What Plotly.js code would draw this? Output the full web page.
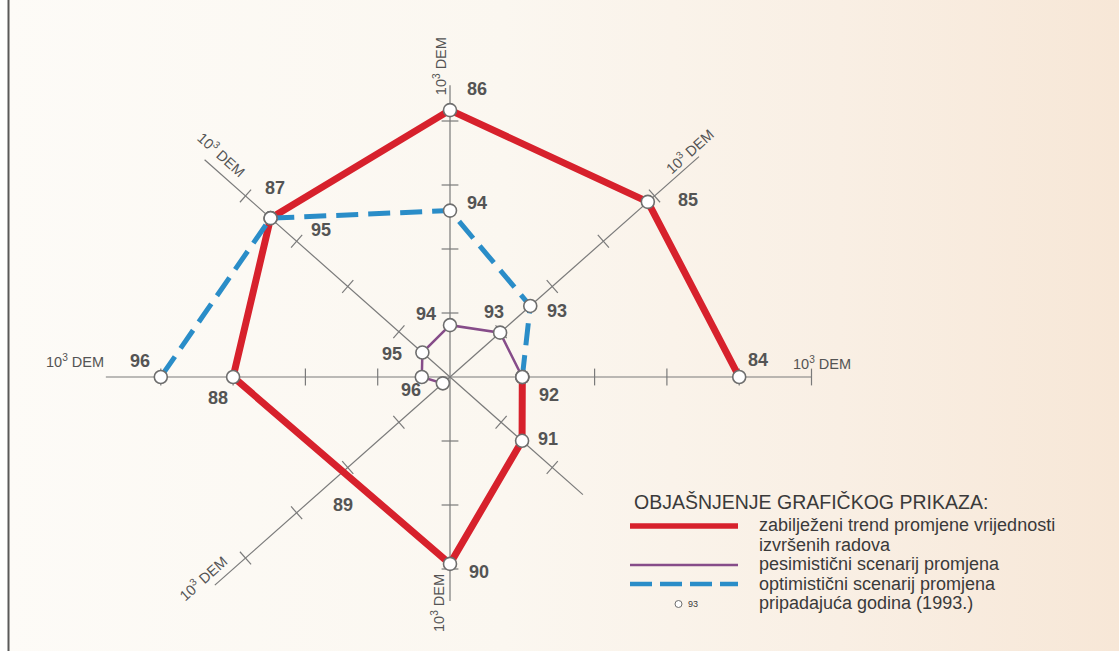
<!DOCTYPE html>
<html>
<head>
<meta charset="utf-8">
<script src="https://cdn.plot.ly/plotly-3.0.1.min.js"></script>
<style>
  html, body { margin: 0; padding: 0; }
  body {
    width: 1119px; height: 651px; overflow: hidden;
    background: linear-gradient(90deg, #fdfbf7 0%, #fbf7f0 45%, #f9efe4 75%, #f7e7d7 100%);
  }
  #chart { width: 1119px; height: 651px; }
</style>
</head>
<body>
<div id="chart"></div>
<script>
// ---------------- DATA ----------------
// Years are placed on 8 radial axes, rotating counter-clockwise from east (84 = east).
const trendYears  = [84, 85, 86, 87, 88, 89, 90, 91, 92];
const trendValues = [4.0, 3.87, 4.17, 3.51, 3.0, 2.1, 2.92, 1.41, 1.0];
const trendLabels = ['84', '85', '86', '87', '88', '89', '90', '91', '92'];

const pessYears  = [92, 93, 94, 95, 96, 97];
const pessValues = [1.0, 0.98, 0.81, 0.54, 0.39, 0.14];
const pessLabels = ['', '93', '94', '95', '96', ''];

const optYears  = [92, 93, 94, 95, 96];
const optValues = [1.0, 1.57, 2.6, 3.51, 4.0];
const optLabels = ['', '93', '94', '95', '96'];

const unmarkedYears = [89];

const axisDirections = [0, 45, 90, 135, 180, 225, 270, 315];
const axisLengths    = [5.0, 4.87, 4.56, 4.8, 4.76, 4.6, 3.5, 2.6];
const axisUnitLabels = ['10<sup>3</sup> DEM', '10<sup>3</sup> DEM', '10<sup>3</sup> DEM', '10<sup>3</sup> DEM',
                        '10<sup>3</sup> DEM', '10<sup>3</sup> DEM', '10<sup>3</sup> DEM', ''];

const legendTitle = 'OBJAŠNJENJE GRAFIČKOG PRIKAZA:';
const legendTexts = ['zabilježeni trend promjene vrijednosti', 'izvršenih radova',
                     'pesimistični scenarij promjena', 'optimistični scenarij promjena',
                     'pripadajuća godina (1993.)'];
const legendSampleYear = '93';

// ---------------- LAYOUT / STYLE ----------------
const W = 1119, H = 651;
const CX = 450, CY = 377;      // pixel position of the centre
const SX = 72.3, SY = 64;      // pixels per unit horizontally / vertically
const xRange = [-CX / SX, (W - CX) / SX];
const yRange = [-(H - CY) / SY, CY / SY];

const COL_RED = '#d7212c', COL_PURPLE = '#864c89', COL_BLUE = '#2a8dc8';
const COL_AXIS = '#7a7a7a', COL_TEXT = '#545454', COL_LEG = '#3a3a3a';
const FONT = 'Liberation Sans, Arial, sans-serif';

const trendOffsets = [[19,17],[40,2],[27,21],[4,30],[-15,-21],[0,-33],[29,-8],[26,2],[27,-18]];
const pessOffsets  = [[0,0],[-6,21],[-24,11],[-30,-1],[-11,-13],[0,0]];
const optOffsets   = [[0,0],[27,-5],[27,8],[50,-12],[-21,16]];
const axisLabelOffsets = [[10,14],[-10,6],[-10,19],[17,6],[-31,16],[-12,7],[-12,-2],[0,0]];
const axisLabelAngles  = [0, -42, -90, 42, 0, -42, -90, 0];

// ---------------- HELPERS ----------------
const rad = d => d * Math.PI / 180;
const dirOf = year => ((year - trendYears[0]) * 45) % 360;
const toXY = (dir, r) => [r * Math.cos(rad(dir)), r * Math.sin(rad(dir))];

function seriesXY(years, values) {
  const xs = [], ys = [];
  years.forEach((y, i) => { const p = toXY(dirOf(y), values[i]); xs.push(p[0]); ys.push(p[1]); });
  return { xs, ys };
}

const traces = [];

// axes lines
const ax = { x: [], y: [] };
axisDirections.forEach((d, i) => {
  const p = toXY(d, axisLengths[i]);
  ax.x.push(0, p[0], null); ax.y.push(0, p[1], null);
});
traces.push({ type: 'scatter', mode: 'lines', x: ax.x, y: ax.y,
  line: { color: COL_AXIS, width: 1.2 }, hoverinfo: 'skip' });

// tick marks
const tk = { x: [], y: [], a: [] };
axisDirections.forEach((d, i) => {
  const phiPx = Math.atan2(Math.sin(rad(d)) * SY, Math.cos(rad(d)) * SX) * 180 / Math.PI;
  for (let k = 1; k <= Math.floor(axisLengths[i]); k++) {
    const p = toXY(d, k);
    tk.x.push(p[0]); tk.y.push(p[1]); tk.a.push(-phiPx);
  }
});
traces.push({ type: 'scatter', mode: 'markers', x: tk.x, y: tk.y, hoverinfo: 'skip',
  marker: { symbol: 'line-ns', size: 12, angle: tk.a, color: COL_AXIS,
            line: { color: COL_AXIS, width: 1.2 } } });

// series lines
const tr = seriesXY(trendYears, trendValues);
const ps = seriesXY(pessYears, pessValues);
const op = seriesXY(optYears, optValues);

traces.push({ type: 'scatter', mode: 'lines', x: tr.xs, y: tr.ys,
  line: { color: COL_RED, width: 7 }, hoverinfo: 'skip' });
traces.push({ type: 'scatter', mode: 'lines', x: ps.xs, y: ps.ys,
  line: { color: COL_PURPLE, width: 2.5 }, hoverinfo: 'skip' });
traces.push({ type: 'scatter', mode: 'lines', x: op.xs, y: op.ys,
  line: { color: COL_BLUE, width: 5, dash: '22px,10px' }, hoverinfo: 'skip' });

// year markers (white circles)
const mk = { x: [], y: [] };
trendYears.forEach((y, i) => { if (!unmarkedYears.includes(y)) { mk.x.push(tr.xs[i]); mk.y.push(tr.ys[i]); } });
pessYears.forEach((y, i) => { mk.x.push(ps.xs[i]); mk.y.push(ps.ys[i]); });
optYears.forEach((y, i) => { mk.x.push(op.xs[i]); mk.y.push(op.ys[i]); });
traces.push({ type: 'scatter', mode: 'markers', x: mk.x, y: mk.y, hoverinfo: 'skip',
  marker: { symbol: 'circle', size: 13, color: '#ffffff', line: { color: '#6e6e6e', width: 1.6 } } });

// annotations
const annotations = [];
function addLabels(s, labels, offs) {
  labels.forEach((t, i) => {
    if (!t) return;
    annotations.push({ x: s.xs[i], y: s.ys[i], text: '<b>' + t + '</b>', showarrow: false,
      xshift: offs[i][0], yshift: offs[i][1], xanchor: 'center', yanchor: 'middle',
      font: { family: FONT, size: 18, color: COL_TEXT } });
  });
}
addLabels(tr, trendLabels, trendOffsets);
addLabels(ps, pessLabels, pessOffsets);
addLabels(op, optLabels, optOffsets);

axisDirections.forEach((d, i) => {
  if (!axisUnitLabels[i]) return;
  const p = toXY(d, axisLengths[i]);
  annotations.push({ x: p[0], y: p[1], text: axisUnitLabels[i], showarrow: false,
    xshift: axisLabelOffsets[i][0], yshift: axisLabelOffsets[i][1], textangle: axisLabelAngles[i],
    xanchor: 'center', yanchor: 'middle', font: { family: FONT, size: 14.5, color: COL_TEXT } });
});

// legend (paper coordinates from pixel positions)
const px = v => v / W, py = v => 1 - v / H;
annotations.push({ xref: 'paper', yref: 'paper', x: px(632), y: py(502), text: legendTitle,
  showarrow: false, xanchor: 'left', yanchor: 'middle', font: { family: FONT, size: 19.5, color: COL_LEG } });
const legY = [525, 545, 564, 584, 603];
legendTexts.forEach((t, i) => {
  annotations.push({ xref: 'paper', yref: 'paper', x: px(757), y: py(legY[i]), text: t,
    showarrow: false, xanchor: 'left', yanchor: 'middle', font: { family: FONT, size: 18, color: COL_LEG } });
});
annotations.push({ xref: 'paper', yref: 'paper', x: px(686), y: py(604), text: legendSampleYear,
  showarrow: false, xanchor: 'left', yanchor: 'middle', font: { family: FONT, size: 9, color: COL_LEG } });

const shapes = [
  { type: 'rect', xref: 'paper', yref: 'paper', x0: 0, x1: px(8), y0: 0, y1: 1,
    fillcolor: '#ffffff', line: { width: 0 } },
  { type: 'line', xref: 'paper', yref: 'paper', x0: px(8.5), x1: px(8.5), y0: 0, y1: 1,
    line: { color: '#5a5a5a', width: 2 } },
  { type: 'line', xref: 'paper', yref: 'paper', x0: px(630), x1: px(738), y0: py(526), y1: py(526),
    line: { color: COL_RED, width: 5.5 } },
  { type: 'line', xref: 'paper', yref: 'paper', x0: px(630), x1: px(738), y0: py(565), y1: py(565),
    line: { color: COL_PURPLE, width: 2.5 } },
  { type: 'line', xref: 'paper', yref: 'paper', x0: px(630), x1: px(738), y0: py(584), y1: py(584),
    line: { color: COL_BLUE, width: 4.5, dash: '22px,8px' } },
  { type: 'circle', xref: 'paper', yref: 'paper', x0: px(675), x1: px(682), y0: py(600.5), y1: py(607.5),
    fillcolor: '#ffffff', line: { color: '#6e6e6e', width: 1 } }
];

const layout = {
  width: W, height: H, margin: { l: 0, r: 0, t: 0, b: 0, pad: 0 },
  paper_bgcolor: 'rgba(0,0,0,0)', plot_bgcolor: 'rgba(0,0,0,0)',
  showlegend: false, hovermode: false,
  xaxis: { range: xRange, visible: false, fixedrange: true },
  yaxis: { range: yRange, visible: false, fixedrange: true },
  annotations: annotations, shapes: shapes
};

Plotly.newPlot('chart', traces, layout, { staticPlot: true, displayModeBar: false });
</script>
</body>
</html>
